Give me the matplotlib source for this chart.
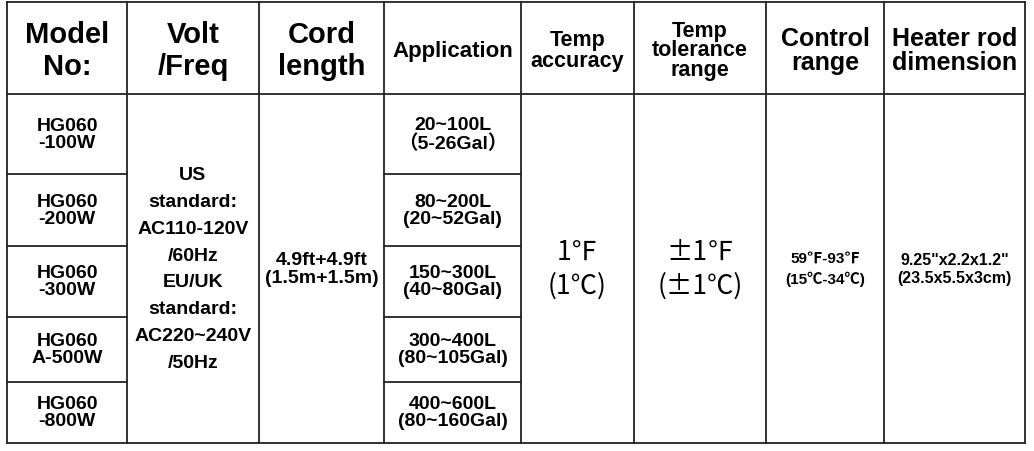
import matplotlib
matplotlib.use("Agg")
import matplotlib.pyplot as plt
from matplotlib import font_manager as fm

names = {f.name for f in fm.fontManager.ttflist}
narrow = 'Liberation Sans Narrow' if 'Liberation Sans Narrow' in names else 'Liberation Sans'
FAM = [narrow, 'Noto Sans CJK SC', 'DejaVu Sans']

col_x = [7, 127, 259, 384, 521, 634, 766, 884, 1025]
row_y = [3, 95, 175, 247, 318, 383, 444]

headers = ["Model\nNo:", "Volt\n/Freq", "Cord\nlength", "Application", "Temp\naccuracy",
           "Temp\ntolerance\nrange", "Control\nrange", "Heater rod\ndimension"]
header_sizes = [21, 21, 21, 16, 15.5, 15.5, 18, 18]
header_ls = [1.15, 1.15, 1.15, 1.0, 0.95, 0.9, 1.0, 1.0]
models = ["HG060\n-100W", "HG060\n-200W", "HG060\n-300W", "HG060\nA-500W", "HG060\n-800W"]
applications = ["20~100L\n（5-26Gal）", "80~200L\n(20~52Gal)", "150~300L\n(40~80Gal)",
                "300~400L\n(80~105Gal)", "400~600L\n(80~160Gal)"]
volt = "US\nstandard:\nAC110-120V\n/60Hz\nEU/UK\nstandard:\nAC220~240V\n/50Hz"
cord = "4.9ft+4.9ft\n(1.5m+1.5m)"
accuracy = "1℉\n(1℃)"
tolerance = "±1℉\n(±1℃)"
control = "59℉-93℉\n(15℃-34℃)"
dimension = "9.25\"x2.2x1.2\"\n(23.5x5.5x3cm)"

fig = plt.figure(figsize=(10.34, 4.52), dpi=100)
ax = fig.add_axes([0, 0, 1, 1])
ax.set_xlim(0, 1034); ax.set_ylim(452, 0); ax.axis('off')

lw = 1.3
top, bot = row_y[0], row_y[-1]
for x in col_x:
    ax.plot([x, x], [top, bot], color='#222', lw=lw)
ax.plot([col_x[0], col_x[-1]], [top, top], color='#222', lw=lw)
ax.plot([col_x[0], col_x[-1]], [row_y[1], row_y[1]], color='#222', lw=lw)
ax.plot([col_x[0], col_x[-1]], [bot, bot], color='#222', lw=lw)
for y in row_y[2:-1]:
    ax.plot([col_x[0], col_x[1]], [y, y], color='#222', lw=lw)
    ax.plot([col_x[3], col_x[4]], [y, y], color='#222', lw=lw)

def cx(i): return (col_x[i] + col_x[i+1]) / 2

for i, h in enumerate(headers):
    ax.text(cx(i), (row_y[0] + row_y[1]) / 2 + 2, h, ha='center', va='center',
            fontsize=header_sizes[i], fontweight='bold', family=FAM, linespacing=header_ls[i])

for r in range(5):
    yc = (row_y[r+1] + row_y[r+2]) / 2
    ax.text(cx(0), yc, models[r], ha='center', va='center', fontsize=14,
            fontweight='bold', family=FAM, linespacing=1.0)
    ax.text(cx(3), yc, applications[r], ha='center', va='center', fontsize=14,
            fontweight='bold', family=FAM, linespacing=1.0)

ymid = (row_y[1] + row_y[-1]) / 2
ax.text(cx(1), ymid, volt, ha='center', va='center', fontsize=14, fontweight='bold',
        family=FAM, linespacing=1.75)
ax.text(cx(2), ymid, cord, ha='center', va='center', fontsize=14, fontweight='bold',
        family=FAM, linespacing=1.1)
ax.text(cx(4), ymid, accuracy, ha='center', va='center', fontsize=19,
        family=['Noto Sans CJK SC', 'DejaVu Sans'], linespacing=1.3)
ax.text(cx(5), ymid, tolerance, ha='center', va='center', fontsize=19,
        family=['Noto Sans CJK SC', 'DejaVu Sans'], linespacing=1.3)
ax.text(cx(6), ymid, control, ha='center', va='center', fontsize=11, fontweight='bold',
        family=['Liberation Sans', 'Noto Sans CJK SC', 'DejaVu Sans'], linespacing=1.5)
ax.text(cx(7), ymid, dimension, ha='center', va='center', fontsize=11.5, fontweight='bold',
        family=FAM, linespacing=1.3)

fig.savefig("out.png", dpi=100, facecolor='white')
